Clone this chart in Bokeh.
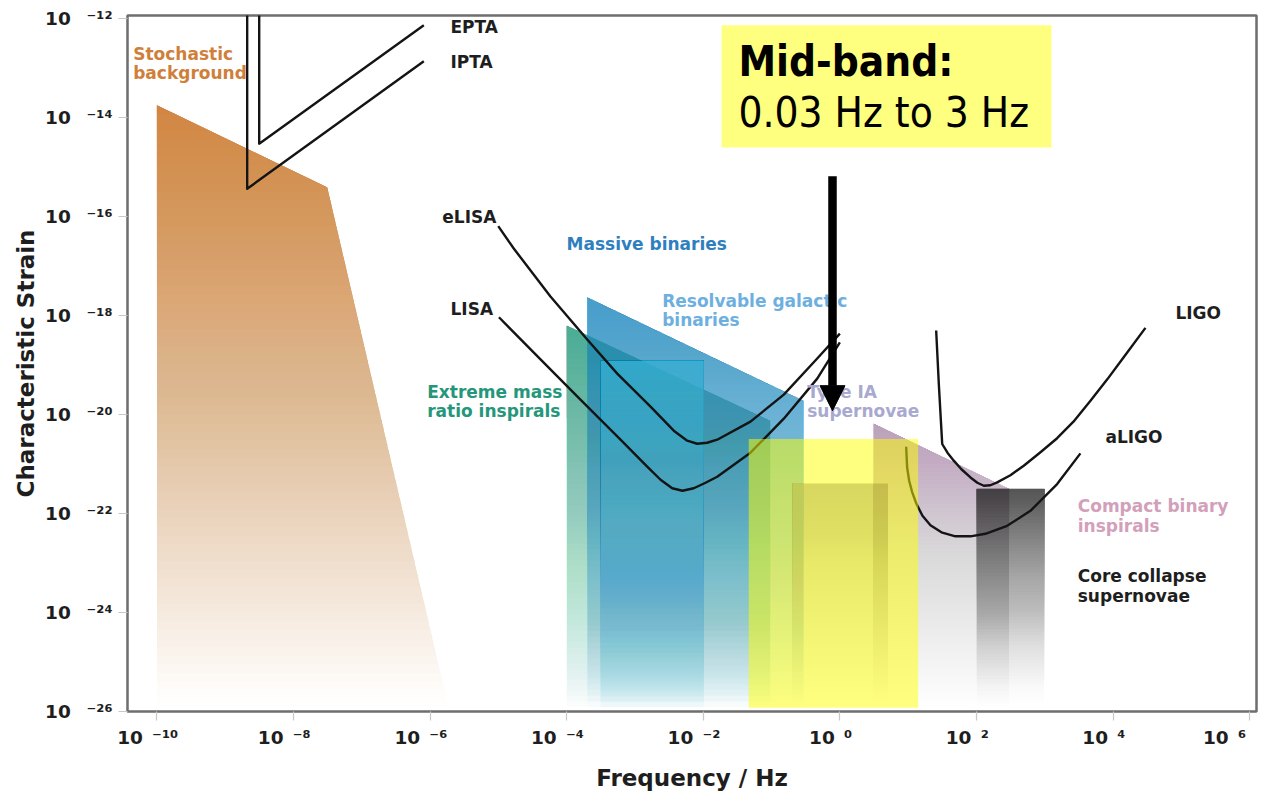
import numpy as np
from bokeh.plotting import figure
from bokeh.models import Range1d, FixedTicker, CustomJSTickFormatter, Label, Arrow, NormalHead, BoxAnnotation
from bokeh.embed import file_html
from bokeh.resources import INLINE

# ---- axis ticks (powers of ten) ----
x_tick_exponents = [-10, -8, -6, -4, -2, 0, 2, 4, 6]
x_tick_labels = ["10\u2002⁻¹⁰", "10\u2002⁻⁸", "10\u2002⁻⁶", "10\u2002⁻⁴", "10\u2002⁻²",
                 "10\u2002⁰", "10\u2002²", "10\u2002⁴", "10\u2002⁶"]
y_tick_exponents = [-26, -24, -22, -20, -18, -16, -14, -12]
y_tick_labels = ["10\u2002 ⁻²⁶", "10\u2002 ⁻²⁴", "10\u2002 ⁻²²", "10\u2002 ⁻²⁰",
                 "10\u2002 ⁻¹⁸", "10\u2002 ⁻¹⁶", "10\u2002 ⁻¹⁴", "10\u2002 ⁻¹²"]

# ---- source regions: frequency [Hz] / characteristic strain ----
stochastic_f = [1e-10, 3.12e-8, 1.86e-6, 1e-10]
stochastic_h = [1.79e-14, 3.96e-16, 1.2e-26, 1.2e-26]

emri_f = [1.0e-4, 0.096, 0.096, 1.0e-4]
emri_h = [6.27e-19, 7.46e-21, 1.2e-26, 1.2e-26]

massive_f = [2.0e-4, 0.296, 0.296, 2.0e-4]
massive_h = [2.34e-18, 1.9e-20, 1.2e-26, 1.2e-26]

galactic_f = [3.13e-4, 0.0102, 0.0102, 3.13e-4]
galactic_h = [1.22e-19, 1.22e-19, 1.2e-26, 1.2e-26]

type1a_f = [0.2, 5.1, 5.1, 0.2]
type1a_h = [4.0e-22, 4.0e-22, 1.2e-26, 1.2e-26]

compact_f = [3.1, 304.0, 304.0, 3.1]
compact_h = [6.65e-21, 3.13e-22, 1.2e-26, 1.2e-26]

core_f = [100.0, 1000.0, 1000.0, 100.0]
core_h = [3.13e-22, 3.13e-22, 1.2e-26, 1.2e-26]

# mid-band frequency window
midband_f = [0.0463, 14.0]
midband_h = [1.17e-26, 3.18e-21]

# ---- detector sensitivity curves ----
epta_f = [3.15e-9, 3.15e-9, 8.1e-7]
epta_h = [3e-12, 3.0e-15, 7.45e-13]
ipta_f = [2.1e-9, 2.1e-9, 8.1e-7]
ipta_h = [3e-12, 3.67e-16, 1.39e-13]

elisa_f = [9.95e-6, 1.68e-5, 5.79e-5, 2.0e-4, 5.5e-4, 1.69e-3, 3.70e-3, 5.82e-3, 8.15e-3,
           1.14e-2, 1.60e-2, 4.91e-2, 0.151, 0.466, 1.0]
elisa_h = [6.43e-17, 2.27e-17, 2.42e-18, 3.27e-19, 6.68e-20, 1.44e-20, 4.69e-21, 2.94e-21, 2.55e-21,
           2.67e-21, 3.08e-21, 7.13e-21, 2.51e-20, 1.35e-19, 4.31e-19]

lisa_f = [1.02e-5, 4.14e-5, 1.59e-4, 6.14e-4, 1.51e-3, 2.37e-3, 3.51e-3, 4.96e-3, 7.26e-3,
          1.08e-2, 1.60e-2, 4.91e-2, 0.151, 0.466, 1.0]
lisa_h = [9.23e-19, 1.30e-19, 1.99e-20, 3.08e-21, 8.75e-22, 4.77e-22, 3.21e-22, 2.86e-22, 3.21e-22,
          4.15e-22, 5.48e-22, 1.68e-21, 8.20e-21, 5.30e-20, 2.88e-19]

ligo_f = [25.7, 28.1, 31.5, 37.6, 46.5, 60.2, 81.7, 103.0, 128.0, 160.0, 201.0, 314.0, 492.0,
          865.0, 1517.0, 2630.0, 4667.0, 8280.0, 1.43e4, 2.98e4]
ligo_h = [4.97e-19, 4.13e-20, 2.52e-21, 1.68e-21, 1.16e-21, 7.78e-22, 5.31e-22, 4.15e-22, 3.61e-22,
          3.69e-22, 4.21e-22, 5.89e-22, 9.16e-22, 1.72e-21, 3.30e-21, 7.13e-21, 1.90e-20, 5.18e-20,
          1.43e-19, 5.64e-19]

aligo_f = [9.35, 9.66, 10.34, 11.4, 13.2, 16.2, 21.2, 30.7, 49.2, 81.7, 135.0, 281.0, 617.0,
           1517.0, 3327.0]
aligo_h = [2.22e-21, 8.45e-22, 4.55e-22, 2.72e-22, 1.56e-22, 8.89e-23, 5.71e-23, 4.12e-23, 3.42e-23,
           3.42e-23, 3.85e-23, 5.58e-23, 1.12e-22, 3.90e-22, 1.63e-21]

# arrow pointing into the mid-band
arrow_f = [0.78, 0.78]
arrow_h = [6.6e-16, 1.19e-20]

X0, X1 = 10 ** -10.43, 10 ** 6.1
Y0, Y1 = 10 ** -26.01, 10 ** -11.93

FONT = "DejaVu Sans"
INK = "#1e1e1e"

p = figure(frame_width=1129, frame_height=696, x_axis_type="log", y_axis_type="log",
           x_range=Range1d(X0, X1), y_range=Range1d(Y0, Y1),
           output_backend="svg", toolbar_location=None,
           min_border_left=127, min_border_right=8, min_border_top=15, min_border_bottom=80)
p.background_fill_color = "white"
p.border_fill_color = "white"
p.outline_line_color = "#6e6e6e"
p.outline_line_width = 2.5
p.xgrid.visible = False
p.ygrid.visible = False

fmt_code = """
const e = Math.round(Math.log10(tick));
const i = exps.indexOf(e);
return i >= 0 ? labels[i] + tail : '';
"""
p.xaxis.formatter = CustomJSTickFormatter(
    args=dict(exps=x_tick_exponents, labels=x_tick_labels, tail="\u2003"), code=fmt_code)
p.yaxis.formatter = CustomJSTickFormatter(
    args=dict(exps=y_tick_exponents, labels=y_tick_labels, tail=""), code=fmt_code)
p.xaxis.ticker = FixedTicker(ticks=[10.0 ** e for e in x_tick_exponents], minor_ticks=[])
p.yaxis.ticker = FixedTicker(ticks=[10.0 ** e for e in y_tick_exponents], minor_ticks=[])
for ax in (p.xaxis, p.yaxis):
    ax.axis_line_color = None
    ax.major_tick_line_color = "#c8c8c8"
    ax.major_tick_line_width = 1.2
    ax.major_tick_in = 0
    ax.major_tick_out = 9
    ax.minor_tick_line_color = None
    ax.major_label_text_font = FONT
    ax.major_label_text_font_style = "bold"
    ax.major_label_text_font_size = "18.5px"
    ax.major_label_text_color = INK
    ax.major_label_standoff = 6
    ax.axis_label_text_font = FONT
    ax.axis_label_text_font_style = "bold"
    ax.axis_label_text_font_size = "23px"
    ax.axis_label_text_color = INK
p.xaxis.axis_label = "Frequency / Hz"
p.yaxis.axis_label = "Characteristic Strain"
p.xaxis.axis_label_standoff = 14
p.yaxis.axis_label_standoff = 3


def clip_below(lx, ly, yb):
    """Part of a polygon (log coords) lying at or above the level yb."""
    out = []
    n = len(lx)
    for i in range(n):
        x0, y0 = lx[i], ly[i]
        x1, y1 = lx[(i + 1) % n], ly[(i + 1) % n]
        in0, in1 = y0 >= yb, y1 >= yb
        if in0:
            out.append((x0, y0))
        if in0 != in1:
            t = (yb - y0) / (y1 - y0)
            out.append((x0 + t * (x1 - x0), yb))
    return out


def faded_region(freqs, strains, color, top_alpha, gamma=1.0, bands=70):
    """Fill a region whose opacity fades out towards the bottom of the plot."""
    lx = np.log10(freqs)
    ly = np.log10(strains)
    lo, hi = ly.min(), ly.max()
    edges = np.linspace(lo, hi, bands + 1)
    xs, ys, alphas = [], [], []
    covered = 0.0
    for k in range(bands):
        mid = 0.5 * (edges[k] + edges[k + 1])
        target = top_alpha * ((mid - lo) / (hi - lo)) ** gamma
        a = 1 - (1 - target) / (1 - covered)
        covered = target
        pts = clip_below(lx, ly, edges[k])
        xs.append(10 ** np.array([q[0] for q in pts]))
        ys.append(10 ** np.array([q[1] for q in pts]))
        alphas.append(max(a, 0.0))
    p.patches(xs, ys, fill_color=color, fill_alpha=alphas, line_color=None)


faded_region(stochastic_f, stochastic_h, "#d6843f", 0.95)
faded_region(emri_f, emri_h, "#28aa86", 0.8, gamma=0.75)
faded_region(massive_f, massive_h, "#379bcd", 0.85, gamma=0.75)
faded_region(galactic_f, galactic_h, "#41b9dc", 0.9, gamma=0.6)
faded_region(type1a_f, type1a_h, "#968cbe", 0.6)
faded_region(compact_f, compact_h, "#bb7ca8", 0.5)
faded_region(core_f, core_h, "#262626", 0.72, gamma=1.4)

curve_kw = dict(line_color="#141414", line_width=2.4, line_join="round")
for fx, hy in ((epta_f, epta_h), (ipta_f, ipta_h), (elisa_f, elisa_h), (lisa_f, lisa_h),
               (ligo_f, ligo_h), (aligo_f, aligo_h)):
    p.line(fx, hy, **curve_kw)

# translucent mid-band highlight
p.quad(left=[midband_f[0]], right=[midband_f[1]], bottom=[midband_h[0]], top=[midband_h[1]],
       fill_color="#ffff00", fill_alpha=0.5, line_color=None)


def label(x, y, text, size, color=INK, style="bold", font=FONT):
    p.add_layout(Label(x=x, y=y, text=text, text_font=font, text_font_size=f"{size}px",
                       text_font_style=style, text_color=color, text_align="left",
                       text_baseline="middle"))


# source labels
label(4.5e-11, 1.95e-13, "Stochastic", 17, color="#cf7f3a")
label(4.5e-11, 8.22e-14, "background", 17, color="#cf7f3a")
label(9.95e-5, 2.76e-17, "Massive binaries", 17, color="#2f7fbf")
label(2.5e-3, 1.96e-18, "Resolvable galactic", 17, color="#6db0e0")
label(2.5e-3, 7.98e-19, "binaries", 17, color="#6db0e0")
label(9.08e-7, 2.78e-20, "Extreme mass", 17, color="#25967a")
label(9.08e-7, 1.15e-20, "ratio inspirals", 17, color="#25967a")
label(0.332, 2.78e-20, "Type IA", 17, color="#a9a9cf")
label(0.332, 1.15e-20, "supernovae", 17, color="#a9a9cf")
label(3.04e3, 1.39e-22, "Compact binary", 17, color="#d2a0ba")
label(3.04e3, 5.64e-23, "inspirals", 17, color="#d2a0ba")
label(3.04e3, 5.30e-24, "Core collapse", 17)
label(3.04e3, 2.15e-24, "supernovae", 17)

# detector labels
label(1.99e-6, 6.86e-13, "EPTA", 17)
label(1.99e-6, 1.34e-13, "IPTA", 17)
label(1.51e-6, 9.86e-17, "eLISA", 17)
label(1.99e-6, 1.33e-18, "LISA", 17)
label(8.18e4, 1.14e-18, "LIGO", 17)
label(7.73e3, 3.46e-21, "aLIGO", 17)

# mid-band callout
p.add_layout(BoxAnnotation(left=0.0185, right=1253.0, bottom=2.52e-15, top=7.45e-13,
                           fill_color="#ffff00", fill_alpha=0.5, line_color=None))
label(0.0328, 1.36e-13, "Mid-band:", 42, color="black", font="DejaVu Sans Condensed")
label(0.0328, 1.26e-14, "0.03 Hz to 3 Hz", 42, color="black", style="normal",
      font="DejaVu Sans Condensed")

p.add_layout(Arrow(end=NormalHead(size=25, fill_color="black", line_color="black"),
                   x_start=arrow_f[0], y_start=arrow_h[0], x_end=arrow_f[1], y_end=arrow_h[1],
                   line_color="black", line_width=8.5))

open("out.html", "w").write(file_html(p, INLINE))
